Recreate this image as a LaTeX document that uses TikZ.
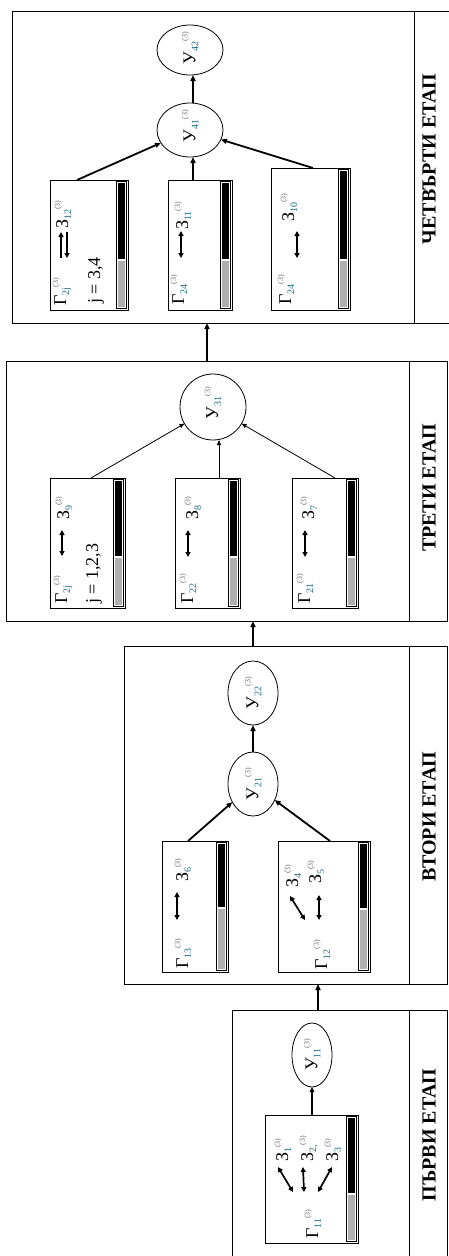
\documentclass[tikz,border=0pt]{standalone}
\usepackage{fontspec}
\setmainfont{Liberation Serif}
\usetikzlibrary{arrows.meta,calc,shapes.geometric,fit}
\definecolor{subc}{RGB}{30,110,130}
\definecolor{supc}{RGB}{110,110,110}
\definecolor{bargray}{RGB}{175,175,175}
\newcommand\gsym[3]{#1\raisebox{-3pt}{\textcolor{subc}{\fontsize{10}{10}\selectfont #2}}\raisebox{8pt}{\textcolor{supc}{\fontsize{8}{8}\selectfont #3}}}
\newcommand\tbox[6]{%
  \node[tbx, fit={(#2,#3) (#4,#5)}] (#1) {};
  \draw[line width=0.7pt] ({#4-12},{#3+1.5}) rectangle ({#4-1.5},{#5-1.5});
  \fill[black] ({#4-10.5},{#3+3}) rectangle ({#4-3},{#6});
  \fill[bargray] ({#4-10.5},{#6+1.5}) rectangle ({#4-3},{#5-3});
}
\begin{document}
\begin{tikzpicture}[x=1pt,y=-1pt,
  stg/.style={draw, line width=1pt, inner sep=0pt, outer sep=0pt},
  tbx/.style={draw, line width=0.9pt, inner sep=0pt, outer sep=0pt},
  ell/.style={draw, ellipse, line width=0.8pt, inner sep=0pt, outer sep=0pt},
  rt/.style={rotate=90, inner sep=0pt, font=\fontsize{18}{18}\selectfont},
  lab/.style={rotate=90, inner sep=0pt, font=\fontsize{20}{20}\selectfont\bfseries},
  conn/.style={line width=1.8pt, -{Triangle[length=6pt,width=5pt]}},
  connthin/.style={line width=0.8pt, -{Triangle[length=5pt,width=4pt]}},
  dbl/.style={line width=1.7pt, {Triangle[length=5pt,width=5pt]}-{Triangle[length=5pt,width=5pt]}},
  sgl/.style={line width=1.5pt, -{Triangle[length=5pt,width=5pt]}},
]
\useasboundingbox (0,0) rectangle (449,1256);

% ---------- stage frames ----------
\node[stg, fit={(12,11) (414,323)}] (s4) {};
\node[stg, fit={(414,11) (456,323)}] (l4) {};
\node[stg, fit={(6,361) (409,621)}] (s3) {};
\node[stg, fit={(409,361) (447,621)}] (l3) {};
\node[stg, fit={(124,646) (409,984)}] (s2) {};
\node[stg, fit={(409,646) (447,984)}] (l2) {};
\node[stg, fit={(232,1010) (409,1264)}] (s1) {};
\node[stg, fit={(409,1010) (447,1264)}] (l1) {};

\node[lab] (lab4) at (429,159) {ЧЕТВЪРТИ ЕТАП};
\node[lab] (lab3) at (429,488) {ТРЕТИ ЕТАП};
\node[lab] (lab2) at (429,817) {ВТОРИ ЕТАП};
\node[lab] (lab1) at (429,1135) {ПЪРВИ ЕТАП};

% ---------- stage 4 ----------
\tbox{g4a}{50}{180}{128}{310}{259}
\tbox{g4b}{168}{180}{232}{310}{259}
\tbox{g4c}{271}{168}{350}{310}{259}
\node[ell, minimum width=66pt, minimum height=50pt] (y42) at (190,50) {};
\node[ell, minimum width=66pt, minimum height=54pt] (y41) at (190,130) {};
\node[rt] (y42t) at (190,48) {\gsym{У}{42}{(3)}};
\node[rt] (y41t) at (190,126) {\gsym{У}{41}{(3)}};

\node[rt, anchor=base west] (t4a1) at (66,306) {\gsym{Г}{2j}{(3)}};
\node[rt, anchor=base west] (t4a2) at (68,229) {\gsym{З}{12}{(3)}};
\node[rt, anchor=base west] (t4a3) at (100,304) {j = 3,4};
\node[rt, anchor=base west] (t4b1) at (184,305) {\gsym{Г}{24}{(3)}};
\node[rt, anchor=base west] (t4b2) at (188,230) {\gsym{З}{11}{(3)}};
\node[rt, anchor=base west] (t4c1) at (291,305) {\gsym{Г}{24}{(3)}};
\node[rt, anchor=base west] (t4c2) at (294,222) {\gsym{З}{10}{(3)}};

\coordinate (a4a1) at (61,258); \coordinate (a4a2) at (61,232);
\coordinate (a4a3) at (67,258); \coordinate (a4a4) at (67,232);
\draw[sgl] (a4a1) -- (a4a2);
\draw[sgl] (a4a4) -- (a4a3);
\coordinate (a4b1) at (181,258); \coordinate (a4b2) at (181,231);
\draw[dbl] (a4b1) -- (a4b2);
\coordinate (a4c1) at (297,258); \coordinate (a4c2) at (297,231);
\draw[dbl] (a4c1) -- (a4c2);

\draw[conn] ($(g4a.north west)+(27,0)$) -- (y41);
\draw[conn] ($(g4b.north west)+(25,0)$) -- ($(y41.south)+(3,0)$);
\draw[conn] ($(g4c.north west)+(42,0)$) -- (y41);
\draw[conn] ($(y41.north)+(3,0)$) -- ($(y42.south)+(3,0)$);

% ---------- stage 3 ----------
\tbox{g3a}{50}{478}{125}{608}{556}
\tbox{g3b}{175}{478}{240}{608}{556}
\tbox{g3c}{292}{478}{358}{608}{556}
\node[ell, minimum width=66pt, minimum height=66pt] (y31) at (213,407) {};
\node[rt] (y31t) at (213,403) {\gsym{У}{31}{(3)}};

\node[rt, anchor=base west] (t3a1) at (67,604) {\gsym{Г}{2j}{(3)}};
\node[rt, anchor=base west] (t3a2) at (69,520) {\gsym{З}{9}{(3)}};
\node[rt, anchor=base west] (t3a3) at (98,604) {j = 1,2,3};
\node[rt, anchor=base west] (t3b1) at (193,604) {\gsym{Г}{22}{(3)}};
\node[rt, anchor=base west] (t3b2) at (198,520) {\gsym{З}{8}{(3)}};
\node[rt, anchor=base west] (t3c1) at (310,604) {\gsym{Г}{21}{(3)}};
\node[rt, anchor=base west] (t3c2) at (314,520) {\gsym{З}{7}{(3)}};

\coordinate (a3a1) at (62,556); \coordinate (a3a2) at (62,530);
\draw[dbl] (a3a1) -- (a3a2);
\coordinate (a3b1) at (188,557); \coordinate (a3b2) at (188,530);
\draw[dbl] (a3b1) -- (a3b2);
\coordinate (a3c1) at (305,557); \coordinate (a3c2) at (305,530);
\draw[dbl] (a3c1) -- (a3c2);

\draw[connthin] ($(g3a.north west)+(41,0)$) -- (y31);
\draw[connthin] ($(g3b.north west)+(44,0)$) -- ($(y31.south)+(6,0)$);
\draw[connthin] ($(g3c.north west)+(43,0)$) -- (y31);

% ---------- stage 2 ----------
\tbox{g2a}{162}{841}{228}{972}{907}
\tbox{g2b}{278}{841}{370}{972}{908}
\node[ell, minimum width=50pt, minimum height=64pt] (y22) at (253,693) {};
\node[ell, minimum width=50pt, minimum height=64pt] (y21) at (253,784) {};
\node[rt] (y22t) at (253,693) {\gsym{У}{22}{(3)}};
\node[rt] (y21t) at (253,784) {\gsym{У}{21}{(3)}};

\node[rt, anchor=base west] (t2a1) at (188,969) {\gsym{Г}{13}{(3)}};
\node[rt, anchor=base west] (t2a2) at (188,882) {\gsym{З}{6}{(3)}};
\node[rt, anchor=base west] (t2b1) at (327,970) {\gsym{Г}{12}{(3)}};
\node[rt, anchor=base west] (t2b2) at (298,888) {\gsym{З}{4}{(3)}};
\node[rt, anchor=base west] (t2b3) at (321,884) {\gsym{З}{5}{(3)}};

\coordinate (a2a1) at (177,920); \coordinate (a2a2) at (177,892);
\draw[dbl] (a2a1) -- (a2a2);
\coordinate (a2b1) at (319,920); \coordinate (a2b2) at (319,895);
\draw[dbl] (a2b1) -- (a2b2);
\coordinate (a2b3) at (305,920); \coordinate (a2b4) at (290,896);
\draw[dbl] (a2b3) -- (a2b4);

\draw[conn] ($(g2a.north west)+(26,0)$) -- (y21);
\draw[conn] ($(g2b.north west)+(52,0)$) -- (y21);
\draw[conn] (y21.north) -- (y22.south);

% ---------- stage 1 ----------
\tbox{g1}{265}{1115}{358}{1243}{1193}
\node[ell, minimum width=40pt, minimum height=64pt] (y11) at (312,1055) {};
\node[rt] (y11t) at (312,1055) {\gsym{У}{11}{(3)}};

\node[rt, anchor=base west] (t1a) at (318,1239) {\gsym{Г}{11}{(3)}};
\node[rt, anchor=base west] (t1b) at (288,1162) {\gsym{З}{1}{(3)}};
\node[rt, anchor=base west] (t1c) at (313,1162) {\gsym{З}{2,}{(3)}};
\node[rt, anchor=base west] (t1d) at (338,1162) {\gsym{З}{3}{(3)}};

\coordinate (a1a1) at (293,1192); \coordinate (a1a2) at (278,1167);
\draw[dbl] (a1a1) -- (a1a2);
\coordinate (a1b1) at (304,1192); \coordinate (a1b2) at (303,1167);
\draw[dbl] (a1b1) -- (a1b2);
\coordinate (a1c1) at (318,1192); \coordinate (a1c2) at (332,1167);
\draw[dbl] (a1c1) -- (a1c2);

\draw[line width=1.3pt, -{Triangle[length=5pt,width=4.5pt]}] ($(g1.north west)+(47,0)$) -- (y11.south);

% ---------- stage links ----------
\coordinate (l12) at ($(s1.north west)+(86,0)$);
\draw[conn] (l12) -- (l12 |- s2.south);
\draw[conn] (y22 |- s2.north) -- (y22 |- s3.south);
\coordinate (l34) at ($(s3.north west)+(201,0)$);
\draw[conn] (l34) -- (l34 |- s4.south);
\end{tikzpicture}
\end{document}
